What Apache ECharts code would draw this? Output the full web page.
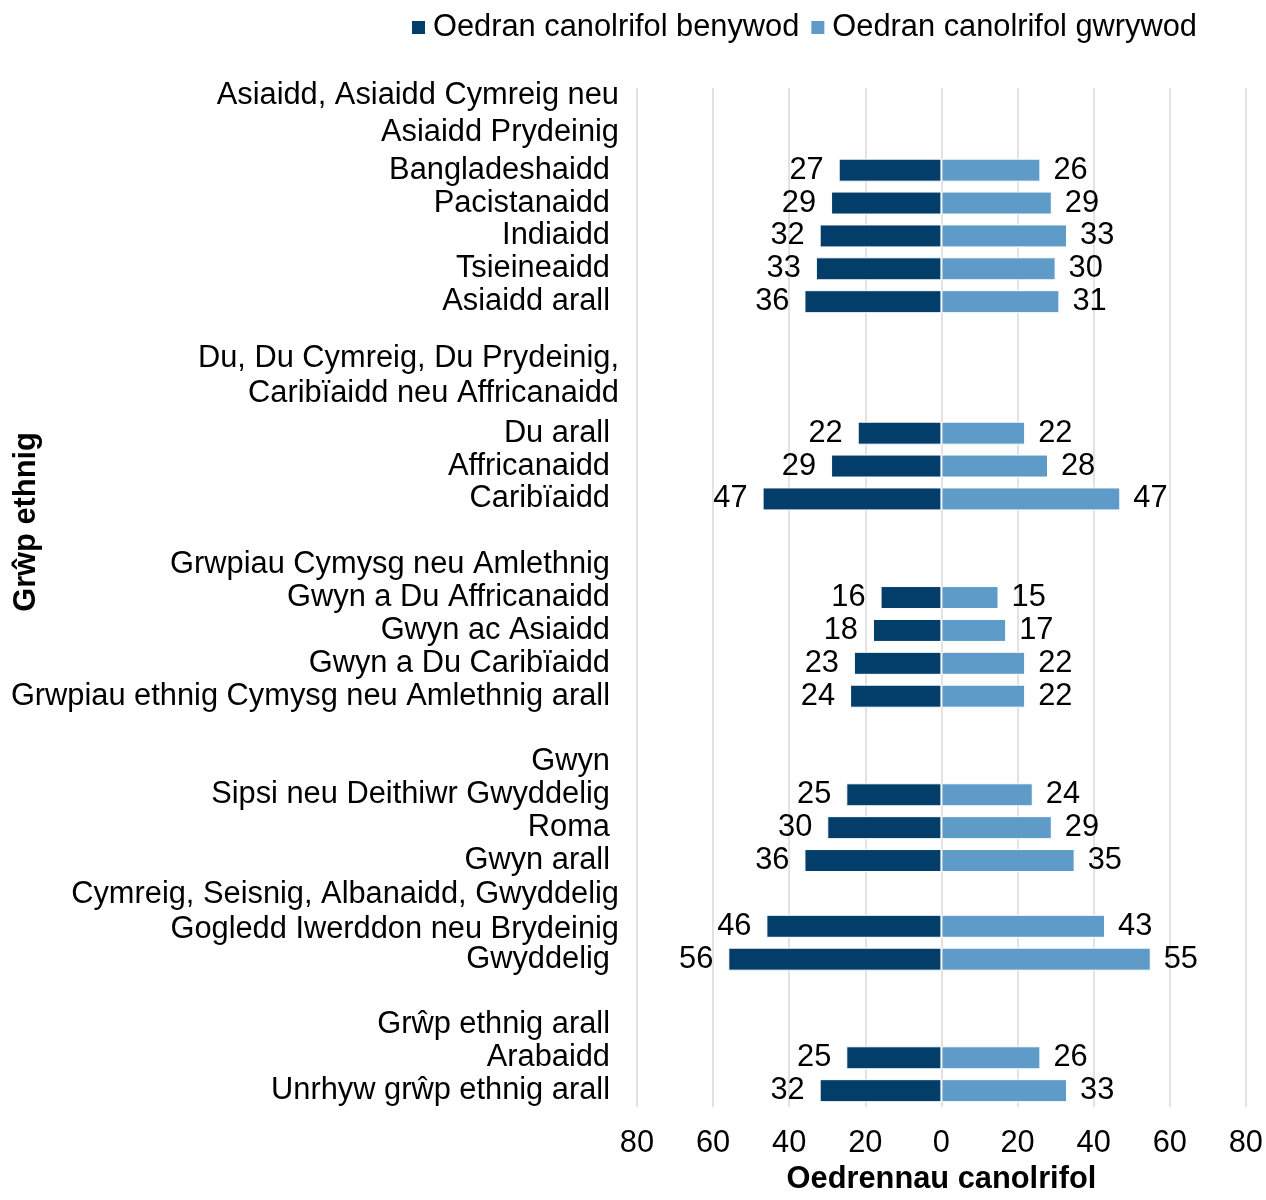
<!DOCTYPE html>
<html>
<head>
<meta charset="utf-8">
<script src="https://cdn.jsdelivr.net/npm/echarts@6/dist/echarts.min.js"></script>
<style>
  html, body { margin: 0; padding: 0; background: #ffffff; overflow: hidden; }
  #chart { width: 1266px; height: 1200px; }
</style>
</head>
<body>
<div id="chart"></div>
<script>
// ---- data ----
const categories = [
  '',
  'Asiaidd, Asiaidd Cymreig neu\nAsiaidd Prydeinig',
  'Bangladeshaidd',
  'Pacistanaidd',
  'Indiaidd',
  'Tsieineaidd',
  'Asiaidd arall',
  '',
  '',
  'Du, Du Cymreig, Du Prydeinig,\nCaribïaidd neu Affricanaidd',
  'Du arall',
  'Affricanaidd',
  'Caribïaidd',
  '',
  'Grwpiau Cymysg neu Amlethnig',
  'Gwyn a Du Affricanaidd',
  'Gwyn ac Asiaidd',
  'Gwyn a Du Caribïaidd',
  'Grwpiau ethnig Cymysg neu Amlethnig arall',
  '',
  'Gwyn',
  'Sipsi neu Deithiwr Gwyddelig',
  'Roma',
  'Gwyn arall',
  '',
  'Cymreig, Seisnig, Albanaidd, Gwyddelig\nGogledd Iwerddon neu Brydeinig',
  'Gwyddelig',
  '',
  'Grŵp ethnig arall',
  'Arabaidd',
  'Unrhyw grŵp ethnig arall'
];
const femaleMedian = [null, null, 27, 29, 32, 33, 36, null, null, null, 22, 29, 47, null, null, 16, 18, 23, 24, null, null, 25, 30, 36, null, 46, 56, null, null, 25, 32];
const maleMedian   = [null, null, 26, 29, 33, 30, 31, null, null, null, 22, 28, 47, null, null, 15, 17, 22, 22, null, null, 24, 29, 35, null, 43, 55, null, null, 26, 33];
const xTicks = { min: -80, max: 80, step: 20 };
const seriesNames = ['Oedran canolrifol benywod', 'Oedran canolrifol gwrywod'];
const axisTitles = { x: 'Oedrennau canolrifol', y: 'Grŵp ethnig' };

// ---- styles ----
const FONT = "'Liberation Sans', Arial, sans-serif";
const FS = 30.8;
const femaleColor = '#033D6A';
const maleColor = '#5E9BC8';
const wrapped = {};
wrapped[categories[1]]  = { line: 'w37', spacer: 's47' };
wrapped[categories[9]]  = { line: 'w35', spacer: 's48' };
wrapped[categories[25]] = { line: 'w35', spacer: 's28' };

const tok = (extra) => Object.assign({ fontSize: FS, fontFamily: FONT, color: '#000', align: 'right' }, extra);

const chart = echarts.init(document.getElementById('chart'), null, { renderer: 'canvas' });
chart.setOption({
  backgroundColor: '#ffffff',
  animation: false,
  textStyle: { fontFamily: FONT },
  legend: {
    data: seriesNames,
    left: 410,
    top: 12,
    padding: 0,
    icon: 'rect',
    itemWidth: 15,
    itemHeight: 15,
    itemGap: 10,
    textStyle: { fontSize: FS, color: '#000', fontFamily: FONT, padding: [0, 0, 0, 2] }
  },
  grid: { left: 637, right: 20, top: 88, bottom: 81 },
  xAxis: {
    type: 'value',
    min: xTicks.min,
    max: xTicks.max,
    interval: xTicks.step,
    name: axisTitles.x,
    nameLocation: 'middle',
    nameGap: 56,
    nameTextStyle: { fontSize: FS, fontWeight: 'bold', color: '#000', fontFamily: FONT },
    axisLine: { show: false },
    axisTick: { show: false },
    axisLabel: {
      fontSize: FS, color: '#000', margin: 21, fontFamily: FONT,
      formatter: v => String(Math.abs(v))
    },
    splitLine: { show: true, lineStyle: { color: '#D9D9D9', width: 1.5 } }
  },
  yAxis: {
    type: 'category',
    inverse: true,
    data: categories,
    axisLine: { show: false, onZero: false },
    axisTick: { show: false },
    splitLine: { show: false },
    axisLabel: {
      interval: 0,
      hideOverlap: false,
      margin: 18,
      fontSize: FS,
      color: '#000',
      fontFamily: FONT,
      formatter: (value) => {
        if (!value) return '';
        const w = wrapped[value];
        if (w) {
          return value.split('\n').map(t => '{' + w.line + '|' + t + '}').join('\n') + '\n{' + w.spacer + '| }';
        }
        return '{n|' + value + '}';
      },
      rich: {
        n: tok({ padding: [0, 9, 0, 0] }),
        w37: tok({ lineHeight: 37 }),
        w35: tok({ lineHeight: 35 }),
        s47: tok({ fontSize: 1, lineHeight: 47 }),
        s48: tok({ fontSize: 1, lineHeight: 48 }),
        s28: tok({ fontSize: 1, lineHeight: 28 })
      }
    }
  },
  graphic: [{
    type: 'text',
    x: 27,
    y: 522,
    rotation: Math.PI / 2,
    style: {
      text: axisTitles.y,
      fontSize: FS,
      fontWeight: 'bold',
      fontFamily: FONT,
      fill: '#000',
      align: 'center',
      verticalAlign: 'middle'
    }
  }],
  series: [
    {
      name: seriesNames[0],
      type: 'bar',
      data: femaleMedian.map(v => (v == null ? null : -v)),
      barWidth: 23,
      barGap: '-100%',
      itemStyle: { color: femaleColor, borderColor: '#ffffff', borderWidth: 1 },
      label: {
        show: true, position: 'left', distance: 15,
        fontSize: FS, color: '#000', fontFamily: FONT,
        formatter: p => String(Math.abs(p.value))
      }
    },
    {
      name: seriesNames[1],
      type: 'bar',
      data: maleMedian,
      barWidth: 23,
      barGap: '-100%',
      itemStyle: { color: maleColor, borderColor: '#ffffff', borderWidth: 1 },
      label: {
        show: true, position: 'right', distance: 13,
        fontSize: FS, color: '#000', fontFamily: FONT
      }
    }
  ]
});
</script>
</body>
</html>
